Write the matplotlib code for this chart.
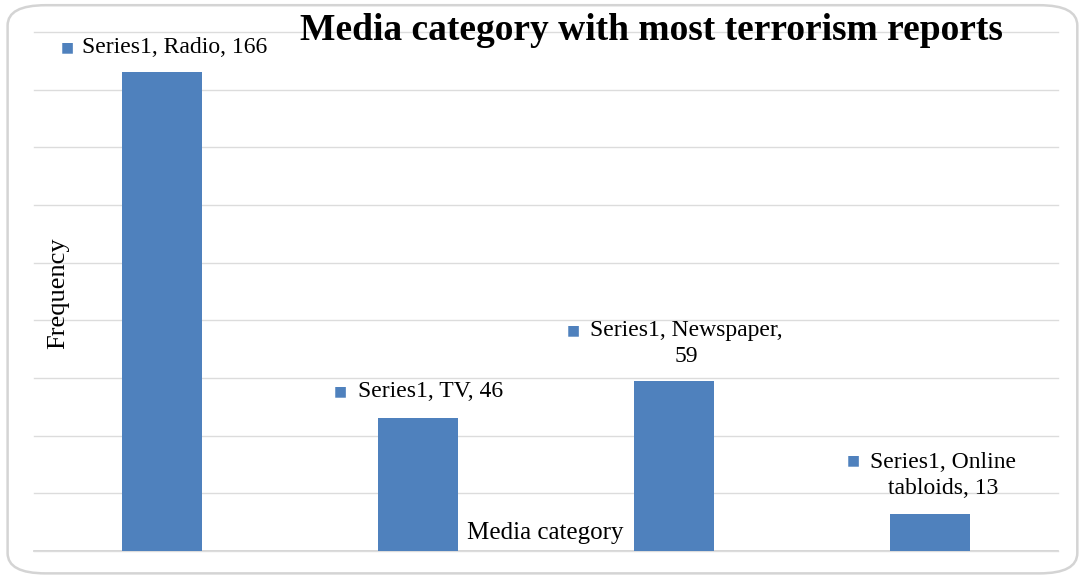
import matplotlib.pyplot as plt
from matplotlib.patches import FancyBboxPatch

categories = ['Radio', 'TV', 'Newspaper', 'Online tabloids']
frequency = [166, 46, 59, 13]
series_name = 'Series1'
label_texts = ['Series1, Radio, 166', 'Series1, TV, 46',
               'Series1, Newspaper,\n59', 'Series1, Online\ntabloids, 13']

bar_color = '#4F81BD'
grid_color = '#DCDCDC'
serif = ['Liberation Serif', 'DejaVu Serif']

fig = plt.figure(figsize=(10.86, 5.78), dpi=100)
fig.patch.set_facecolor('white')

# rounded chart-area frame
frame = FancyBboxPatch((0.007, 0.008), 0.985, 0.983,
                       boxstyle='round,pad=0,rounding_size=0.035',
                       transform=fig.transFigure, facecolor='none',
                       edgecolor='#D4D4D4', linewidth=1.8, zorder=-1)
fig.patches.append(frame)

ax = fig.add_axes([0.0313, 0.0467, 0.9429, 0.898])
ax.set_facecolor('none')

x = range(len(categories))
ax.bar(x, frequency, width=0.316, color=bar_color, zorder=2)
ax.set_xlim(-0.5, len(categories) - 0.5)
ax.set_ylim(0, 180)
ax.set_yticks(range(0, 181, 20))
ax.set_xticks([])
ax.tick_params(axis='y', length=0, labelleft=False)
ax.grid(axis='y', color=grid_color, linewidth=1.0, zorder=0)
for gl in ax.get_ygridlines():
    gl.set_clip_on(False)
ax.axhline(0, color='#D0D0D0', linewidth=1.2, zorder=1, clip_on=False)
for s in ax.spines.values():
    s.set_visible(False)

# data labels: small legend key square followed by the label text
key_offsets = [(-95, 25), (-78, 27), (-101, 51), (-77, 53)]
text_offsets = [(-80, 25), (-60, 27), (-84, 37), (-60, 38)]
for i, (v, txt) in enumerate(zip(frequency, label_texts)):
    ax.annotate('■', xy=(i, v), xytext=key_offsets[i], textcoords='offset pixels',
                ha='center', va='center', fontsize=10, color=bar_color,
                family='DejaVu Sans')
    ax.annotate(txt, xy=(i, v), xytext=text_offsets[i], textcoords='offset pixels',
                ha='left', va='center', multialignment='center',
                fontsize=17, family=serif, linespacing=1.3)

ax.text(0.0234, 0.497, 'Frequency', transform=ax.transAxes, rotation=90,
        ha='center', va='center', fontsize=19, family=serif)
ax.text(0.499, 0.035, 'Media category', transform=ax.transAxes,
        ha='center', va='center', fontsize=18, family=serif)

fig.text(0.5995, 0.948, 'Media category with most terrorism reports',
         ha='center', va='center', fontsize=27, fontweight='bold', family=serif)

fig.savefig('out.png', dpi=100)
